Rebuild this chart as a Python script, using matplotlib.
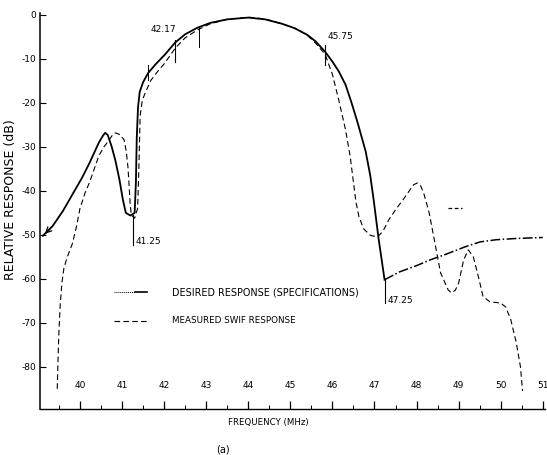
import matplotlib
matplotlib.use("Agg")
import matplotlib.pyplot as plt
from matplotlib.lines import Line2D

plt.rcParams["font.family"] = ["DejaVu Sans"]

# desired response (specifications), passband part
desired_f = [39.12, 39.35, 39.6, 39.84, 40.05, 40.23, 40.45, 40.55, 40.6, 40.66,
             40.75, 40.84, 40.94, 41.02, 41.09, 41.2, 41.3, 41.33, 41.35, 41.38,
             41.42, 41.5, 41.62, 41.8, 42.02, 42.26, 42.5, 42.79, 43.1, 43.5,
             44.0, 44.4, 44.8, 45.1, 45.4, 45.6, 45.83, 46.0, 46.15, 46.31,
             46.45, 46.6, 46.79, 46.9, 46.98, 47.1, 47.24]
desired_db = [-50.2, -48.0, -44.5, -40.5, -37.0, -33.6, -29.0, -27.4, -26.8, -27.3,
              -29.8, -33.0, -37.5, -42.0, -45.0, -45.6, -45.0, -38.0, -28.0, -21.0,
              -17.5, -15.3, -13.2, -11.2, -9.0, -6.3, -4.4, -2.9, -1.8, -1.0,
              -0.6, -1.0, -2.0, -3.0, -4.5, -6.0, -8.4, -10.6, -12.8, -15.8,
              -19.8, -24.5, -31.0, -36.5, -42.0, -51.0, -60.2]
# desired response, upper stopband tail
tail_f = [47.24, 47.6, 48.0, 48.32, 48.7, 49.16, 49.51, 49.9, 50.4, 51.0]
tail_db = [-60.2, -58.4, -57.0, -55.7, -54.4, -52.7, -51.6, -51.1, -50.8, -50.6]

# measured SWIF response
meas_f = [39.46, 39.48, 39.5, 39.53, 39.57, 39.62, 39.7, 39.82, 39.92, 40.0,
          40.12, 40.23, 40.34, 40.45, 40.57, 40.68, 40.78, 40.84, 40.95, 41.05,
          41.1, 41.14, 41.17, 41.19, 41.22, 41.3, 41.37, 41.4, 41.43, 41.48,
          41.55, 41.69, 41.85, 42.02, 42.26, 42.5, 42.79, 43.1, 43.5, 44.0,
          44.4, 44.8, 45.1, 45.4, 45.6, 45.83, 45.9, 46.0, 46.15, 46.31,
          46.42, 46.5, 46.56, 46.63, 46.74, 46.9, 47.07, 47.2, 47.34, 47.5,
          47.68, 47.93, 48.02, 48.1, 48.17, 48.3, 48.42, 48.57, 48.75, 48.83,
          48.92, 49.0, 49.12, 49.23, 49.35, 49.47, 49.58, 49.74, 50.0, 50.12,
          50.24, 50.37, 50.47, 50.52]
meas_db = [-85.0, -78.0, -72.0, -66.0, -61.0, -57.5, -55.0, -52.0, -48.0, -44.0,
           -40.5, -38.0, -35.0, -32.0, -30.0, -28.6, -27.2, -26.8, -27.2, -28.4,
           -31.0, -34.5, -39.0, -42.5, -45.5, -46.2, -44.0, -35.0, -23.0, -19.5,
           -17.7, -14.8, -12.8, -10.9, -7.6, -5.2, -3.4, -2.0, -1.0, -0.5,
           -0.9, -2.0, -3.0, -4.6, -6.4, -9.0, -10.9, -13.5, -19.3, -26.0,
           -32.0, -38.0, -42.5, -45.8, -48.6, -50.1, -50.5, -49.2, -46.6, -44.3,
           -42.0, -38.6, -38.2, -38.9, -40.5, -45.0, -51.0, -58.6, -62.5, -63.2,
           -62.6, -61.0, -55.7, -53.4, -55.0, -59.5, -64.0, -65.2, -65.5, -66.4,
           -69.3, -74.5, -80.0, -85.5]

x_ticks = [40, 41, 42, 43, 44, 45, 46, 47, 48, 49, 50, 51]
y_ticks = [0, -10, -20, -30, -40, -50, -60, -70, -80]
y_labels = ["0", "-10", "-20", "-30", "-40", "-50", "-60", "-70", "-80"]

# frequency markers: (freq, label, y_low, y_high, label x, label y)
markers = [
    (41.27, "41.25", -52.3, -45.5, 41.33, -51.5),
    (42.26, "42.17", -10.7, -5.7, 41.67, -3.4),
    (45.83, "45.75", -11.4, -6.8, 45.88, -5.0),
    (47.24, "47.25", -65.5, -60.2, 47.3, -65.0),
]
plain_ticks = [(41.62, -14.8, -11.4), (42.84, -7.3, -2.7)]

fs = 6.5
fig = plt.figure(figsize=(5.47, 4.55), dpi=100)
ax = fig.add_axes([0.0731, 0.101, 0.923, 0.870])

ax.plot(desired_f, desired_db, color="black", lw=1.3)
ax.plot(tail_f, tail_db, color="black", lw=1.1, ls="-.")
ax.plot(meas_f, meas_db, color="black", lw=0.8, ls=(0, (5, 3)))
ax.annotate("", xy=(desired_f[0], desired_db[0]), xytext=(desired_f[1], desired_db[1]),
            arrowprops=dict(arrowstyle="->", color="black", lw=0.9))

for f, lab, y0, y1, lx, ly in markers:
    ax.plot([f, f], [y0, y1], color="black", lw=0.8)
    ax.text(lx, ly, lab, fontsize=fs, ha="left", va="center")
for f, y0, y1 in plain_ticks:
    ax.plot([f, f], [y0, y1], color="black", lw=0.7)
ax.plot([48.75, 49.07], [-43.9, -43.9], color="black", lw=0.9, ls=(0, (3, 2)))

ax.set_xlim(39.05, 51.05)
ax.set_ylim(-89.6, 0.4)
ax.set_xticks(x_ticks)
ax.set_xticks([t + 0.5 for t in range(39, 51)], minor=True)
ax.set_xticklabels([str(t) for t in x_ticks])
ax.set_yticks(y_ticks)
ax.set_yticklabels(y_labels)
ax.tick_params(axis="x", which="major", direction="in", length=6, width=0.9, pad=-20, labelsize=fs)
ax.tick_params(axis="x", which="minor", direction="in", length=3, width=0.7)
ax.tick_params(axis="y", direction="in", length=4, width=0.8, pad=3, labelsize=fs)
for s in ["top", "right"]:
    ax.spines[s].set_visible(False)
ax.spines["left"].set_linewidth(1.1)
ax.spines["bottom"].set_linewidth(1.0)

# legend drawn by hand, like the original
leg_y = [-63.0, -69.5]
ax.add_line(Line2D([40.8, 41.3], [leg_y[0]] * 2, color="black", lw=0.7, ls=(0, (1, 1))))
ax.add_line(Line2D([41.3, 41.6], [leg_y[0]] * 2, color="black", lw=1.2, ls="-"))
ax.add_line(Line2D([40.8, 41.6], [leg_y[1]] * 2, color="black", lw=0.8, ls=(0, (5, 3))))
ax.text(42.19, leg_y[0], "DESIRED RESPONSE (SPECIFICATIONS)", fontsize=6.9, va="center")
ax.text(42.19, leg_y[1], "MEASURED SWIF RESPONSE", fontsize=6.3, va="center")

fig.text(268 / 547, 1 - 422 / 455, "FREQUENCY (MHz)", fontsize=6.2, ha="center", va="center")
fig.text(11 / 547, 1 - 200 / 455, "RELATIVE RESPONSE (dB)", fontsize=9, rotation=90,
         ha="center", va="center")
fig.text(223 / 547, 1 - 450 / 455, "(a)", fontsize=7, ha="center", va="center")

fig.savefig("out.png", dpi=100)
